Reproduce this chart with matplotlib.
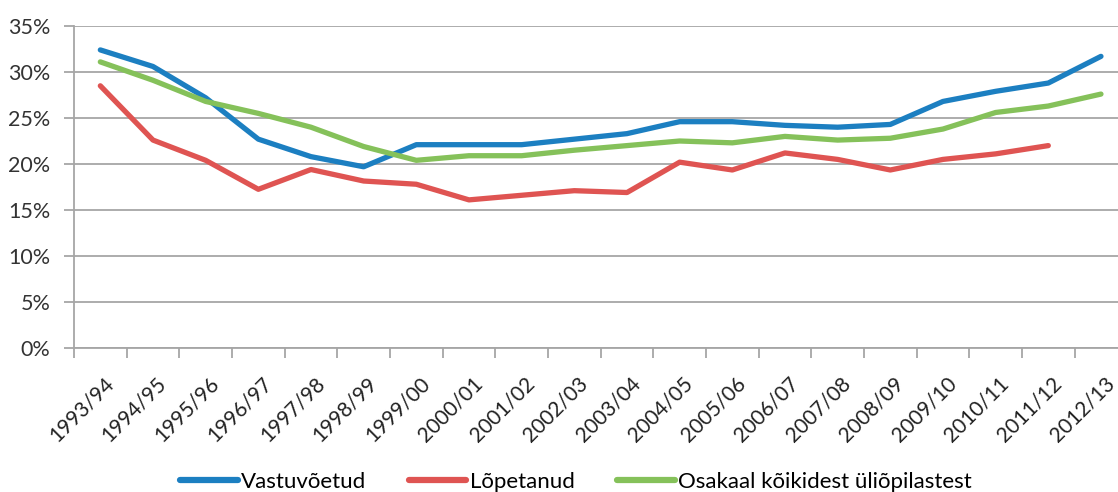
import matplotlib.pyplot as plt
from matplotlib.ticker import FuncFormatter

years = ['1993/94', '1994/95', '1995/96', '1996/97', '1997/98', '1998/99', '1999/00',
         '2000/01', '2001/02', '2002/03', '2003/04', '2004/05', '2005/06', '2006/07',
         '2007/08', '2008/09', '2009/10', '2010/11', '2011/12', '2012/13']

vastuvoetud = [32.4, 30.6, 27.2, 22.7, 20.8, 19.7, 22.1, 22.1, 22.1, 22.7, 23.3,
               24.6, 24.6, 24.2, 24.0, 24.3, 26.8, 27.9, 28.8, 31.7]
lopetanud = [28.5, 22.6, 20.4, 17.25, 19.4, 18.15, 17.8, 16.1, 16.6, 17.1, 16.9,
             20.2, 19.35, 21.2, 20.5, 19.35, 20.5, 21.1, 22.0, None]
osakaal = [31.1, 29.1, 26.8, 25.5, 24.0, 21.9, 20.4, 20.9, 20.9, 21.5, 22.0,
           22.5, 22.3, 23.0, 22.6, 22.8, 23.8, 25.6, 26.3, 27.6]

labels = ['Vastuvõetud', 'Lõpetanud', 'Osakaal kõikidest üliõpilastest']
colors = ['#1c7fc1', '#df5452', '#85c15a']

plt.rcParams['font.family'] = ['Lato', 'DejaVu Sans']

fig = plt.figure(figsize=(11.18, 4.92), dpi=100)
ax = fig.add_axes([74 / 1118, 1 - 348 / 492, 1053.3 / 1118, 322 / 492])

x = list(range(len(years)))
for vals, lab, col in zip([vastuvoetud, lopetanud, osakaal], labels, colors):
    xs = [i for i, v in zip(x, vals) if v is not None]
    ys = [v for v in vals if v is not None]
    ax.plot(xs, ys, color=col, lw=3.8, label=lab, solid_capstyle='round', solid_joinstyle='round')

ax.set_ylim(0, 35)
ax.set_xlim(-0.5, len(years) - 0.5)
ax.set_yticks(range(0, 36, 5))
ax.yaxis.set_major_formatter(FuncFormatter(lambda v, p: f'{int(v)}%'))
ax.set_xticks([i - 0.5 for i in range(len(years) + 1)])
ax.set_xticklabels([])
ax.set_xticks([i + 0.06 for i in x], minor=True)
ax.set_xticklabels(years, minor=True, rotation=45, ha='right', va='top',
                   rotation_mode='anchor', fontsize=15, color='#222222')
ax.tick_params(axis='x', which='minor', length=0, pad=18)
ax.tick_params(axis='x', which='major', length=7, color='#a6a6a6', width=1.3)
ax.tick_params(axis='y', length=7, color='#a6a6a6', width=1.3, labelsize=15.5,
               labelcolor='#333333', pad=10)

ax.grid(axis='y', color='#a6a6a6', lw=1.3)
ax.set_axisbelow(True)
for s in ['top', 'right']:
    ax.spines[s].set_visible(False)
for s in ['left', 'bottom']:
    ax.spines[s].set_color('#a6a6a6')
    ax.spines[s].set_linewidth(1.3)

leg = fig.legend(loc='lower center', bbox_to_anchor=(0.515, -0.04), ncol=3, frameon=False,
                 fontsize=16, handlelength=2.6, handletextpad=0.15, columnspacing=1.9)
for h in leg.get_lines():
    h.set_linewidth(4.5)

fig.savefig('out.png', dpi=100)
